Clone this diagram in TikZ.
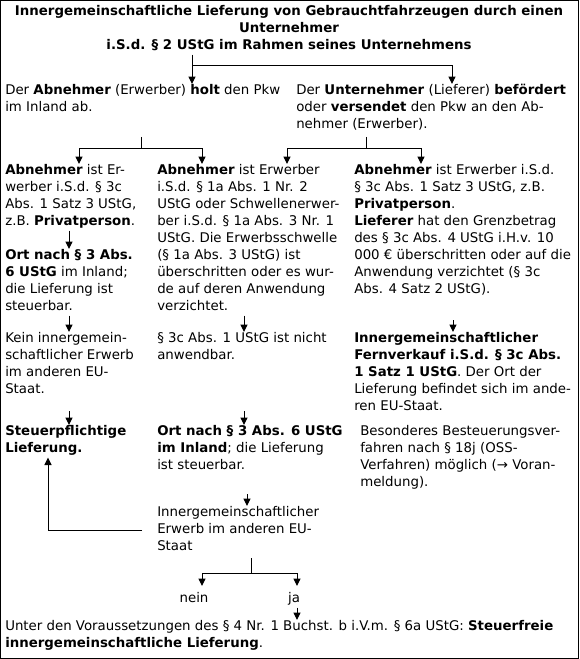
\documentclass[tikz,border=0pt]{standalone}
\usepackage{fontspec}
\setmainfont{DejaVu Sans}
\usetikzlibrary{arrows.meta, calc}
\newcommand{\schrift}{\fontsize{10pt}{12.75pt}\selectfont}
\tikzset{
	block/.style={anchor=north west, inner sep=0pt, align=left, font=\schrift, execute at begin node={\rule{0pt}{12pt}}, execute at end node={\rule[-3.75pt]{0pt}{3.75pt}}},
	line/.style={draw, line width=0.75pt},
	pfeil/.style={draw, line width=0.75pt, -{Triangle[length=5.5pt, width=5.25pt]}}
}

\begin{document}
\begin{tikzpicture}[x=0.75pt, y=-0.75pt]
	\useasboundingbox (0,0) rectangle (579,659);
	% Rahmen um das ganze Schema
	\draw[line width=1.1pt] (0.75,0.75) rectangle (578.25,658.25);
	
	% Ueberschrift
	\node[block, anchor=north, align=center, font=\schrift\bfseries] (titel) at (289,5) {Innergemeinschaftliche Lieferung von Gebrauchtfahrzeugen durch einen\\Unternehmer\\i.S.d. § 2 UStG im Rahmen seines Unternehmens};
	
	% Zweite Ebene
	\node[block] (holt) at (5,84) {Der \textbf{Abnehmer} (Erwerber) \textbf{holt} den Pkw\\im Inland ab.};
	\node[block] (befoerdert) at (296,84) {Der \textbf{Unternehmer} (Lieferer) \textbf{befördert}\\oder \textbf{versendet} den Pkw an den Ab-\\nehmer (Erwerber).};
	
	% Linke Spalte
	\node[block] (privat) at (5,164) {\textbf{Abnehmer} ist Er-\\werber i.S.d. § 3c\\Abs. 1 Satz 3 UStG,\\z.B. \textbf{Privatperson}.};
	\node[block] (ortinland) at (5,249) {\textbf{Ort nach § 3 Abs.}\\\textbf{6 UStG} im Inland;\\die Lieferung ist\\steuerbar.};
	\node[block] (keinerwerb) at (5,332) {Kein innergemein-\\schaftlicher Erwerb\\im anderen EU-\\Staat.};
	\node[block] (steuerpfl) at (5,425) {\textbf{Steuerpflichtige}\\\textbf{Lieferung.}};
	
	% Mittlere Spalte
	\node[block] (schwelle) at (157,164) {\textbf{Abnehmer} ist Erwerber\\i.S.d. § 1a Abs. 1 Nr. 2\\UStG oder Schwellenerwer-\\ber i.S.d. § 1a Abs. 3 Nr. 1\\UStG. Die Erwerbsschwelle\\(§ 1a Abs. 3 UStG) ist\\überschritten oder es wur-\\de auf deren Anwendung\\verzichtet.};
	\node[block] (nichtanw) at (157,332) {§ 3c Abs. 1 UStG ist nicht\\anwendbar.};
	\node[block] (ortinland2) at (157,425) {\textbf{Ort nach § 3 Abs. 6 UStG}\\\textbf{im Inland}; die Lieferung\\ist steuerbar.};
	\node[block] (igerwerb) at (157,506) {Innergemeinschaftlicher\\Erwerb im anderen EU-\\Staat};
	
	% Rechte Spalte
	\node[block] (grenz) at (354,164) {\textbf{Abnehmer} ist Erwerber i.S.d.\\§ 3c Abs. 1 Satz 3 UStG, z.B.\\\textbf{Privatperson}.\\\textbf{Lieferer} hat den Grenzbetrag\\des § 3c Abs. 4 UStG i.H.v. 10\\000 € überschritten oder auf die\\Anwendung verzichtet (§ 3c\\Abs. 4 Satz 2 UStG).};
	\node[block] (fernverkauf) at (354,332) {\textbf{Innergemeinschaftlicher}\\\textbf{Fernverkauf i.S.d. § 3c Abs.}\\\textbf{1 Satz 1 UStG}. Der Ort der\\Lieferung befindet sich im ande-\\ren EU-Staat.};
	\node[block] (oss) at (360,425) {Besonderes Besteuerungsver-\\fahren nach § 18j (OSS-\\Verfahren) möglich (→ Voran-\\meldung).};
	
	% Verzweigung unten
	\node[block, anchor=north] (nein) at (194,586) {nein};
	\node[block, anchor=north] (ja) at (294,586) {ja};
	\node[block] (steuerfrei) at (5,620) {Unter den Voraussetzungen des § 4 Nr. 1 Buchst. b i.V.m. § 6a UStG: \textbf{Steuerfreie}\\\textbf{innergemeinschaftliche Lieferung}.};
	
	% Hilfspunkte fuer Spuren und Gabeln
	\coordinate (lane0) at (48,0);
	\coordinate (lane1) at (69,0);
	\coordinate (lane2) at (244,0);
	\coordinate (lane2b) at (247,0);
	\coordinate (lane3) at (453,0);
	\coordinate (zeile6) at (0,320);
	\coordinate (zeile8) at (0,411);
	\coordinate (zeile10) at (0,494);
	\coordinate (g1) at (192,66);
	\coordinate (g1r) at (452,66);
	\coordinate (g2o) at (141,137);
	\coordinate (g2) at (141,149);
	\coordinate (g2l) at (79,149);
	\coordinate (g2r) at (202,149);
	\coordinate (g3o) at (366,137);
	\coordinate (g3) at (366,149);
	\coordinate (g3l) at (287,149);
	\coordinate (g3r) at (421,149);
	\coordinate (g4o) at (251,558);
	\coordinate (g4) at (251,573);
	\coordinate (g4l) at (202,573);
	\coordinate (g4r) at (297,573);
	
	% Gabel unter der Ueberschrift
	\path[line] (titel.south -| g1) -- (g1);
	\path[pfeil] (g1) -- (holt.north -| g1);
	\path[pfeil] (g1) -- (g1r) -- (befoerdert.north -| g1r);
	
	% Gabeln der zweiten Ebene
	\path[line] (g2o) -- (g2);
	\path[pfeil] (g2) -- (g2l) -- (privat.north -| g2l);
	\path[pfeil] (g2) -- (g2r) -- (schwelle.north -| g2r);
	\path[line] (g3o) -- (g3);
	\path[pfeil] (g3) -- (g3l) -- (schwelle.north -| g3l);
	\path[pfeil] (g3) -- (g3r) -- (grenz.north -| g3r);
	
	% Pfeile in den Spalten
	\path[pfeil] (privat.south -| lane1) -- (ortinland.north -| lane1);
	\path[pfeil] (ortinland.south -| lane1) -- (keinerwerb.north -| lane1);
	\path[pfeil] (zeile8 -| lane1) -- (steuerpfl.north -| lane1);
	\path[pfeil] (schwelle.south -| lane2) -- (nichtanw.north -| lane2);
	\path[pfeil] (zeile8 -| lane2) -- (ortinland2.north -| lane2);
	\path[pfeil] (zeile10 -| lane2b) -- (igerwerb.north -| lane2b);
	\path[pfeil] (zeile6 -| lane3) -- (fernverkauf.north -| lane3);
	
	% Rueckpfeil zur steuerpflichtigen Lieferung
	\path[pfeil] ([xshift=-11.25pt]igerwerb.west) -- (igerwerb.west -| lane0) -- (steuerpfl.south -| lane0);
	
	% nein / ja
	\path[line] (g4o) -- (g4);
	\path[pfeil] (g4) -- (g4l) -- (nein.north -| g4l);
	\path[pfeil] (g4) -- (g4r) -- (ja.north -| g4r);
	\path[pfeil] (ja.south -| g4r) -- (steuerfrei.north -| g4r);
\end{tikzpicture}
\end{document}
